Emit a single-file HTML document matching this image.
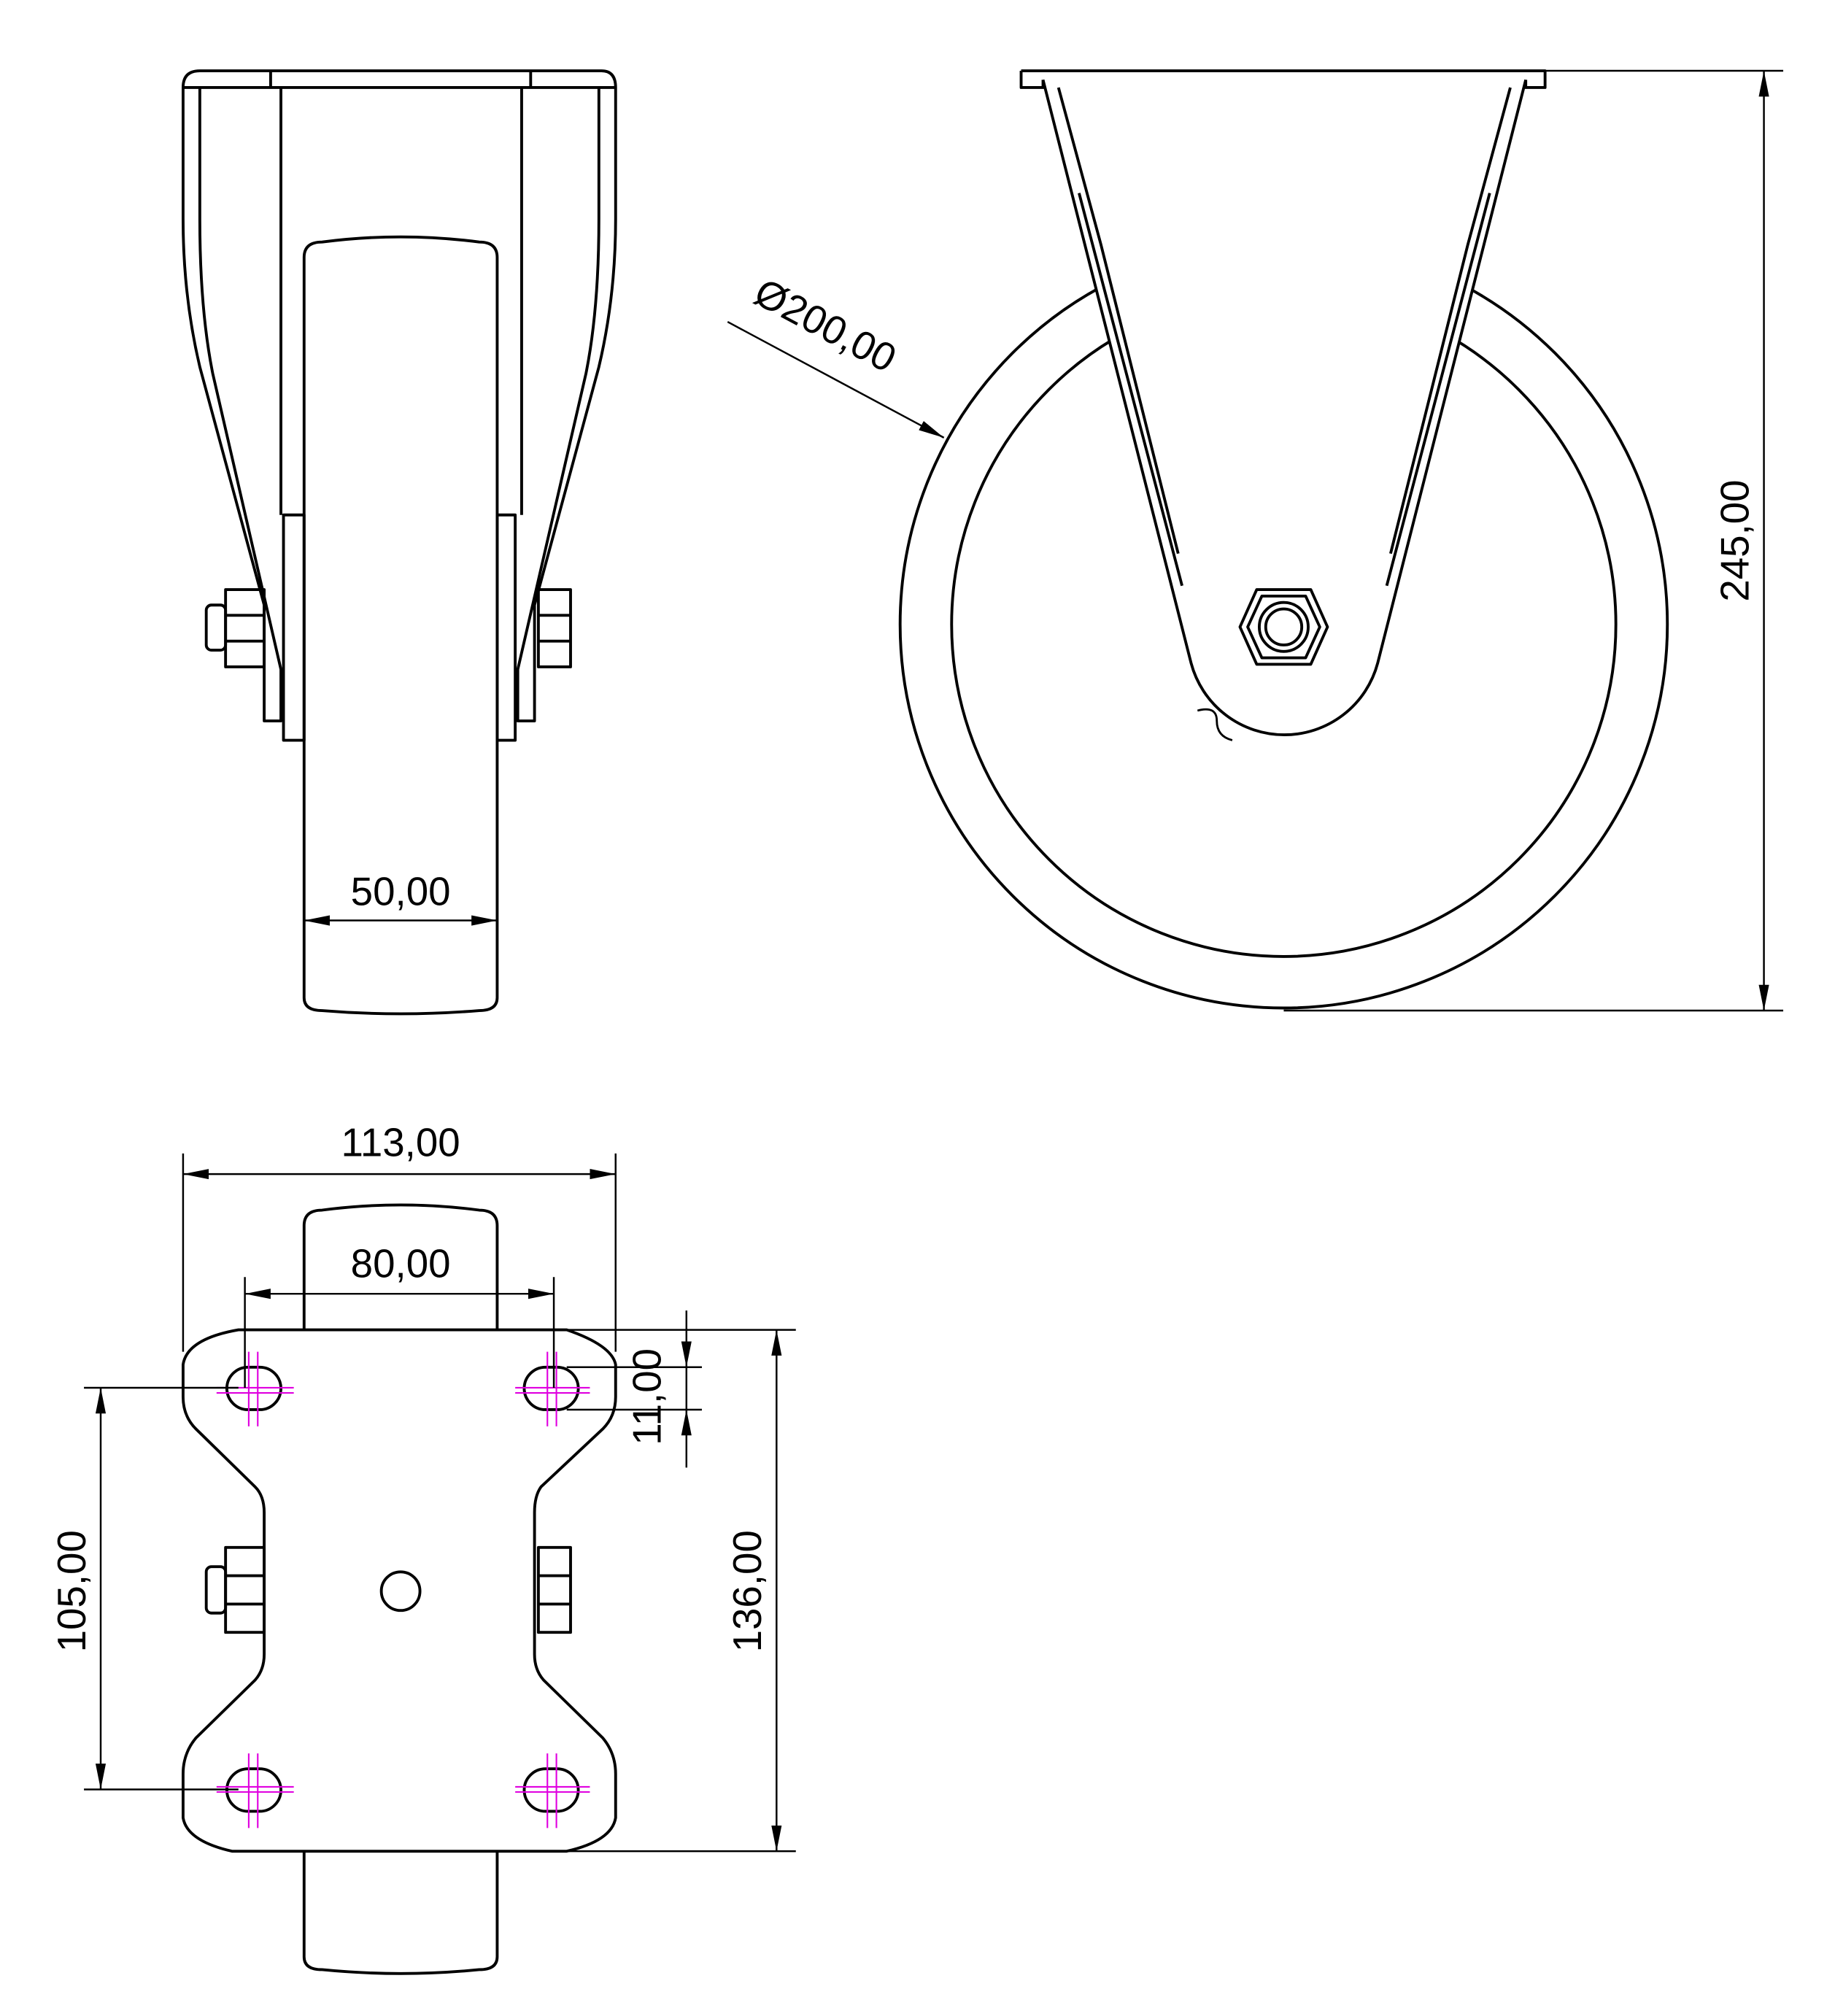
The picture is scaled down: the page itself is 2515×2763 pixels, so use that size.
<!DOCTYPE html>
<html><head><meta charset="utf-8"><style>
html,body{margin:0;padding:0;background:#fff;}
svg{display:block;}
text{font-family:"Liberation Sans",sans-serif;font-size:31px;fill:#000;}
</style></head><body>
<svg width="2515" height="2763" viewBox="0 0 1425 1566" xmlns="http://www.w3.org/2000/svg">
<defs>
<marker id="a" viewBox="0 0 20 10" refX="20" refY="5" markerWidth="20" markerHeight="10" markerUnits="userSpaceOnUse" orient="auto-start-reverse">
<path d="M0,1 L20,5 L0,9 Z" fill="#000"/></marker>
</defs>
<rect width="1425" height="1566" fill="#fff"/>
<g fill="none" stroke="#000" stroke-width="2.2" stroke-linejoin="round">
<!-- FRONT VIEW -->
<path d="M142,68 Q142,55 155,55 L467,55 Q478,55 478,68"/>
<line x1="142" y1="68" x2="478" y2="68"/>
<line x1="210" y1="55" x2="210" y2="68"/><line x1="412" y1="55" x2="412" y2="68"/>
<path d="M142,68 L142,170 Q142,230 155,285 L205,470 L205,560 L218,560 L218,520 L165,290 Q155,240 155,170 L155,68"/>
<path d="M478,68 L478,170 Q478,230 465,285 L415,470 L415,560 L402,560 L402,520 L455,290 Q465,240 465,170 L465,68"/>
<line x1="218" y1="68" x2="218" y2="400"/><line x1="405" y1="68" x2="405" y2="400"/>
<path d="M236,775 L236,200 Q236,188 250,188 Q311,180 372,188 Q386,188 386,200 L386,775 Q386,785 372,785 Q311,790 250,785 Q236,785 236,775 Z"/>
<rect x="220" y="400" width="16" height="175"/>
<rect x="386" y="400" width="14" height="175"/>
<rect x="175" y="458" width="30" height="60"/>
<line x1="175" y1="478" x2="205" y2="478"/><line x1="175" y1="498" x2="205" y2="498"/>
<rect x="160" y="470" width="15" height="35" rx="4"/>
<rect x="418" y="458" width="25" height="60"/>
<line x1="418" y1="478" x2="443" y2="478"/><line x1="418" y1="498" x2="443" y2="498"/>
<!-- SIDE VIEW -->
<circle cx="997" cy="485" r="298"/>
<circle cx="997" cy="485" r="258"/>
<path d="M793,55 L1200,55 L1200,68 L1185,68 L1185,62 M793,55 L793,68 L810,68 L810,62"/>
<path d="M810,62 L925,515 A75,75 0 0 0 1070,515 L1185,62" fill="#fff"/>
<path d="M822,68 L855,190 L915,430"/>
<path d="M1173,68 L1140,190 L1080,430"/>
<line x1="838" y1="150" x2="918" y2="455"/>
<line x1="1157" y1="150" x2="1077" y2="455"/>
<path d="M976,458 L1018,458 L1031,487 L1018,516 L976,516 L963,487 Z"/>
<path d="M980,463 L1014,463 L1025,487 L1014,511 L980,511 L969,487 Z"/>
<circle cx="997" cy="487" r="19"/><circle cx="997" cy="487" r="14"/>
<path d="M930,552 Q945,548 945,560 Q945,572 957,575" stroke-width="1.6"/>
<!-- BOTTOM VIEW -->
<path d="M236,1033 L236,952 Q236,940 250,940 Q311,932 372,940 Q386,940 386,952 L386,1033"/>
<path d="M236,1438 L236,1520 Q236,1530 250,1530 Q311,1536 372,1530 Q386,1530 386,1520 L386,1438"/>
<path d="M185,1033 L440,1033 Q475,1045 478,1060 L478,1085 Q478,1100 468,1110 L420,1155 Q415,1162 415,1175 L415,1285 Q415,1297 422,1305 L468,1350 Q478,1362 478,1378 L478,1412 Q475,1430 440,1438 L180,1438 Q145,1430 142,1412 L142,1378 Q142,1362 152,1350 L198,1305 Q205,1297 205,1285 L205,1175 Q205,1162 198,1155 L152,1110 Q142,1100 142,1085 L142,1060 Q145,1040 185,1033 Z"/>
<rect x="176" y="1062" width="42" height="33" rx="16.5"/>
<rect x="407" y="1062" width="42" height="33" rx="16.5"/>
<rect x="176" y="1374" width="42" height="33" rx="16.5"/>
<rect x="407" y="1374" width="42" height="33" rx="16.5"/>
<circle cx="311" cy="1236" r="15"/>
<rect x="175" y="1202" width="30" height="66"/>
<line x1="175" y1="1224" x2="205" y2="1224"/><line x1="175" y1="1246" x2="205" y2="1246"/>
<rect x="160" y="1217" width="15" height="36" rx="4"/>
<rect x="418" y="1202" width="25" height="66"/>
<line x1="418" y1="1224" x2="443" y2="1224"/><line x1="418" y1="1246" x2="443" y2="1246"/>
</g>
<g stroke="#e000e0" stroke-width="1.2">
<path d="M168,1078 L228,1078 M168,1082 L228,1082 M193,1050 L193,1108 M200,1050 L200,1108"/>
<path d="M400,1078 L458,1078 M400,1082 L458,1082 M425,1050 L425,1108 M432,1050 L432,1108"/>
<path d="M168,1388 L228,1388 M168,1392 L228,1392 M193,1362 L193,1420 M200,1362 L200,1420"/>
<path d="M400,1388 L458,1388 M400,1392 L458,1392 M425,1362 L425,1420 M432,1362 L432,1420"/>
</g>
<g fill="none" stroke="#000" stroke-width="1.4">
<line x1="236" y1="715" x2="386" y2="715" marker-start="url(#a)" marker-end="url(#a)"/>
<line x1="565" y1="250" x2="733" y2="340" marker-end="url(#a)"/>
<line x1="1200" y1="55" x2="1385" y2="55"/><line x1="997" y1="785" x2="1385" y2="785"/>
<line x1="1370" y1="55" x2="1370" y2="785" marker-start="url(#a)" marker-end="url(#a)"/>
<line x1="142" y1="896" x2="142" y2="1050"/><line x1="478" y1="896" x2="478" y2="1050"/>
<line x1="142" y1="912" x2="478" y2="912" marker-start="url(#a)" marker-end="url(#a)"/>
<line x1="190" y1="992" x2="190" y2="1078"/><line x1="430" y1="992" x2="430" y2="1078"/>
<line x1="190" y1="1005" x2="430" y2="1005" marker-start="url(#a)" marker-end="url(#a)"/>
<line x1="440" y1="1062" x2="545" y2="1062"/><line x1="440" y1="1095" x2="545" y2="1095"/>
<line x1="533" y1="1018" x2="533" y2="1062" marker-end="url(#a)"/>
<line x1="533" y1="1140" x2="533" y2="1095" marker-end="url(#a)"/>
<line x1="533" y1="1062" x2="533" y2="1095"/>
<line x1="65" y1="1078" x2="185" y2="1078"/><line x1="65" y1="1390" x2="185" y2="1390"/>
<line x1="78" y1="1078" x2="78" y2="1390" marker-start="url(#a)" marker-end="url(#a)"/>
<line x1="440" y1="1033" x2="618" y2="1033"/><line x1="440" y1="1438" x2="618" y2="1438"/>
<line x1="603" y1="1033" x2="603" y2="1438" marker-start="url(#a)" marker-end="url(#a)"/>
</g>
<text x="311" y="703" text-anchor="middle">50,00</text>
<text x="311" y="898" text-anchor="middle">113,00</text>
<text x="311" y="992" text-anchor="middle">80,00</text>
<text transform="translate(636,262) rotate(28)" text-anchor="middle">Ø200,00</text>
<text transform="translate(1358,420) rotate(-90)" text-anchor="middle">245,00</text>
<text transform="translate(513,1085) rotate(-90)" text-anchor="middle">11,00</text>
<text transform="translate(66,1236) rotate(-90)" text-anchor="middle">105,00</text>
<text transform="translate(591,1236) rotate(-90)" text-anchor="middle">136,00</text>
</svg>
</body></html>
